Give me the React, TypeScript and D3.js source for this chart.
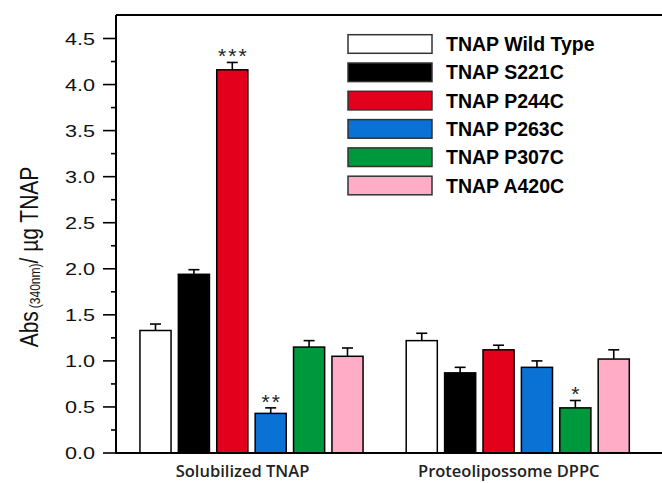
import React from "react";
import * as d3 from "d3";

const categories = ["Solubilized TNAP", "Proteolipossome DPPC"];
const seriesNames = ["TNAP Wild Type", "TNAP S221C", "TNAP P244C", "TNAP P263C", "TNAP P307C", "TNAP A420C"];
const seriesColors = ["#ffffff", "#000000", "#e3001b", "#0a72d4", "#00983c", "#ffadc6"];
const solubilizedValues = [1.33, 1.94, 4.16, 0.43, 1.15, 1.05];
const solubilizedErrors = [0.07, 0.05, 0.08, 0.06, 0.07, 0.09];
const proteoValues = [1.22, 0.87, 1.12, 0.93, 0.49, 1.02];
const proteoErrors = [0.08, 0.06, 0.05, 0.07, 0.08, 0.1];
const solubilizedStars = ["", "", "***", "**", "", ""];
const proteoStars = ["", "", "", "", "*", ""];
const yTicks = [0, 0.5, 1, 1.5, 2, 2.5, 3, 3.5, 4, 4.5];
const yMinorTicks = [0.25, 0.75, 1.25, 1.75, 2.25, 2.75, 3.25, 3.75, 4.25];

const W = 662;
const H = 483;

export default function App() {
  const values = [solubilizedValues, proteoValues];
  const errors = [solubilizedErrors, proteoErrors];
  const stars = [solubilizedStars, proteoStars];

  const y = d3.scaleLinear().domain([0, 4.5]).range([453, 38.5]);
  const xGroup = d3.scalePoint<string>().domain(categories).range([251.5, 517.75]);
  const xInner = d3.scaleBand<string>().domain(seriesNames).range([-115.2, 115.2]).paddingInner(0.19).paddingOuter(0.095);
  const bw = xInner.bandwidth();

  const axisX = 116;
  const topY = 15;
  const baseY = y(0);

  const tickFont = "'Liberation Sans', Arial, sans-serif";

  return (
    <svg width={W} height={H} style={{ position: "absolute", left: 0, top: 0, background: "#fff" }}>
      <rect x={0} y={0} width={W} height={H} fill="#fff" />
      {/* bars */}
      {categories.map((c, gi) =>
        seriesNames.map((s, si) => {
          const x0 = (xGroup(c) as number) + (xInner(s) as number);
          const v = values[gi][si];
          const e = errors[gi][si];
          const cx = x0 + bw / 2;
          const star = stars[gi][si];
          return (
            <g key={c + s}>
              <line x1={cx} x2={cx} y1={y(v)} y2={y(v + e)} stroke="#000" strokeWidth={1.6} />
              <line x1={cx - 5.5} x2={cx + 5.5} y1={y(v + e)} y2={y(v + e)} stroke="#000" strokeWidth={1.6} />
              <rect x={x0} y={y(v)} width={bw} height={baseY - y(v)} fill={seriesColors[si]} stroke="#000" strokeWidth={1.5} />
              {star && (
                <text x={cx + 1} y={y(v + e) + 1} textAnchor="middle" fontFamily={tickFont} fontSize={21} letterSpacing={2} fill="#222">
                  {star}
                </text>
              )}
            </g>
          );
        })
      )}
      {/* frame */}
      <line x1={axisX} x2={W} y1={topY} y2={topY} stroke="#000" strokeWidth={2} />
      <line x1={axisX} x2={W} y1={baseY} y2={baseY} stroke="#000" strokeWidth={2} />
      <line x1={axisX} x2={axisX} y1={topY} y2={baseY + 1} stroke="#000" strokeWidth={2} />
      {yTicks.map((t) => (
        <g key={"t" + t}>
          <line x1={axisX - 13} x2={axisX} y1={y(t)} y2={y(t)} stroke="#000" strokeWidth={1.6} />
          <text
            transform={`translate(95,${y(t) + 6}) scale(1.27,1)`}
            textAnchor="end"
            fontFamily={tickFont}
            fontSize={17}
            fill="#111"
          >
            {t.toFixed(1)}
          </text>
        </g>
      ))}
      {yMinorTicks.map((t) => (
        <line key={"m" + t} x1={axisX - 5} x2={axisX} y1={y(t)} y2={y(t)} stroke="#000" strokeWidth={1.6} />
      ))}
      {/* y label */}
      <text
        transform={`translate(38,257) scale(1.24,1) rotate(-90)`}
        textAnchor="middle"
        fontFamily={tickFont}
        fontSize={21}
        fill="#111"
      >
        Abs
        <tspan fontSize={12} dx={3} dy={2}>(340nm)</tspan>
        <tspan dy={-2}>/ µg TNAP</tspan>
      </text>
      {/* x labels */}
      {categories.map((c) => (
        <text
          key={"xl" + c}
          x={(xGroup(c) as number) - 9}
          y={477}
          textAnchor="middle"
          fontFamily="'Open Sans', sans-serif"
          fontWeight={600}
          fontSize={16.5}
          fill="#222"
        >
          {c}
        </text>
      ))}
      {/* legend */}
      {seriesNames.map((s, i) => {
        const cy = 44 + i * 28.3;
        return (
          <g key={"lg" + s}>
            <rect x={348} y={cy - 9.3} width={84} height={18.6} fill={seriesColors[i]} stroke="#333" strokeWidth={1.5} />
            <text x={446} y={cy + 7} fontFamily={tickFont} fontWeight={700} fontSize={19.5} fill="#000">
              {s}
            </text>
          </g>
        );
      })}
    </svg>
  );
}
